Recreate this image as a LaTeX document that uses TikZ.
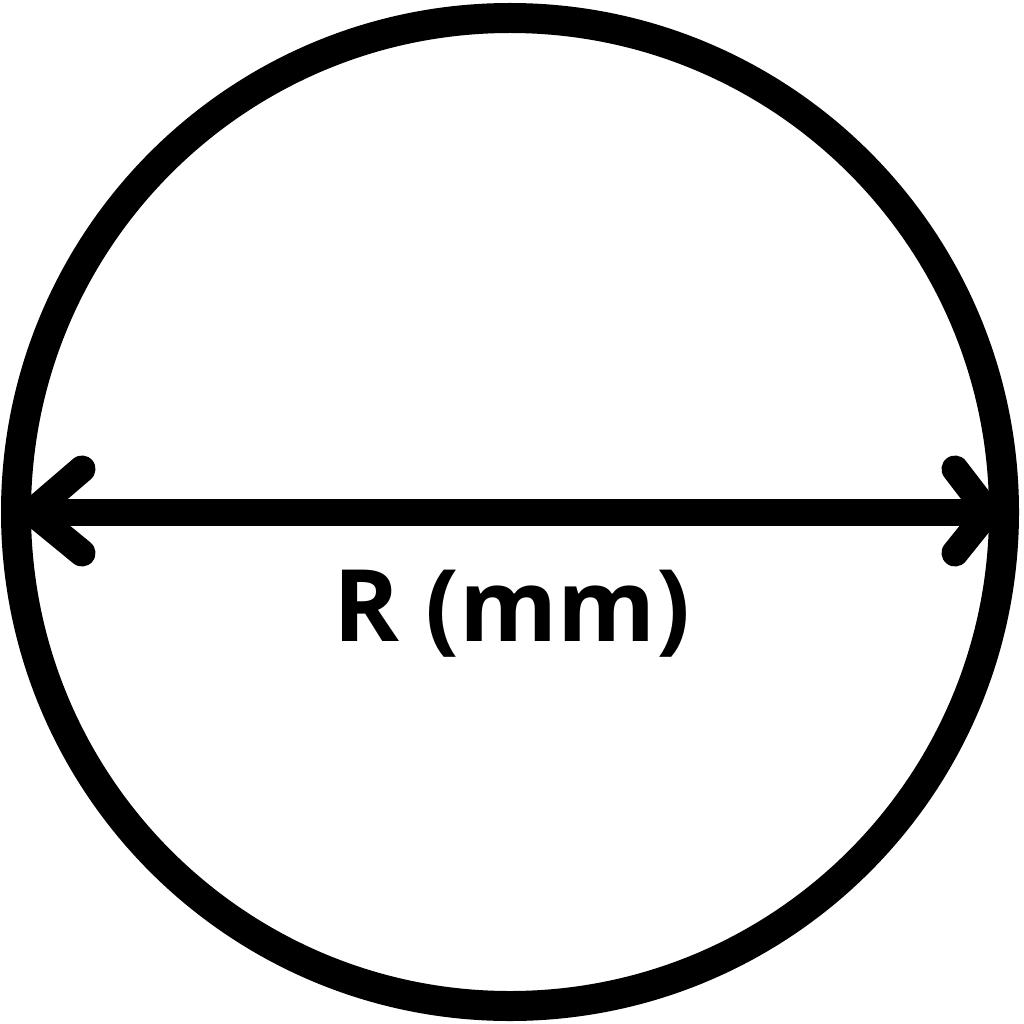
\documentclass[tikz,border=0pt]{standalone}
\usepackage{fontspec}
\setmainfont{Open Sans}
\begin{document}
\begin{tikzpicture}[x=1pt,y=-1pt,
  ring/.style={line width=30pt, draw=black},
  shaft/.style={line width=27pt, line cap=round, line join=round},
  lbl/.style={font=\fontsize{100}{110}\selectfont\bfseries, inner sep=0pt, anchor=base}]
\useasboundingbox (0,0) rectangle (1024,1024);
\fill[white] (0,0) rectangle (1024,1024);
\node[ring, circle, minimum size=988pt, inner sep=0pt] (c) at (510,512) {};
\coordinate (L) at (32,512);
\coordinate (R) at (988,512);
\coordinate (la) at (82,469);
\coordinate (lb) at (82,553);
\coordinate (ra) at (955,469);
\coordinate (rb) at (955,553);
\draw[shaft] (L) -- (R);
\draw[shaft] (la) -- (L) -- (lb);
\draw[shaft] (ra) -- (R) -- (rb);
\node[lbl] (t) at (512,641) {R (mm)};
\end{tikzpicture}
\end{document}
